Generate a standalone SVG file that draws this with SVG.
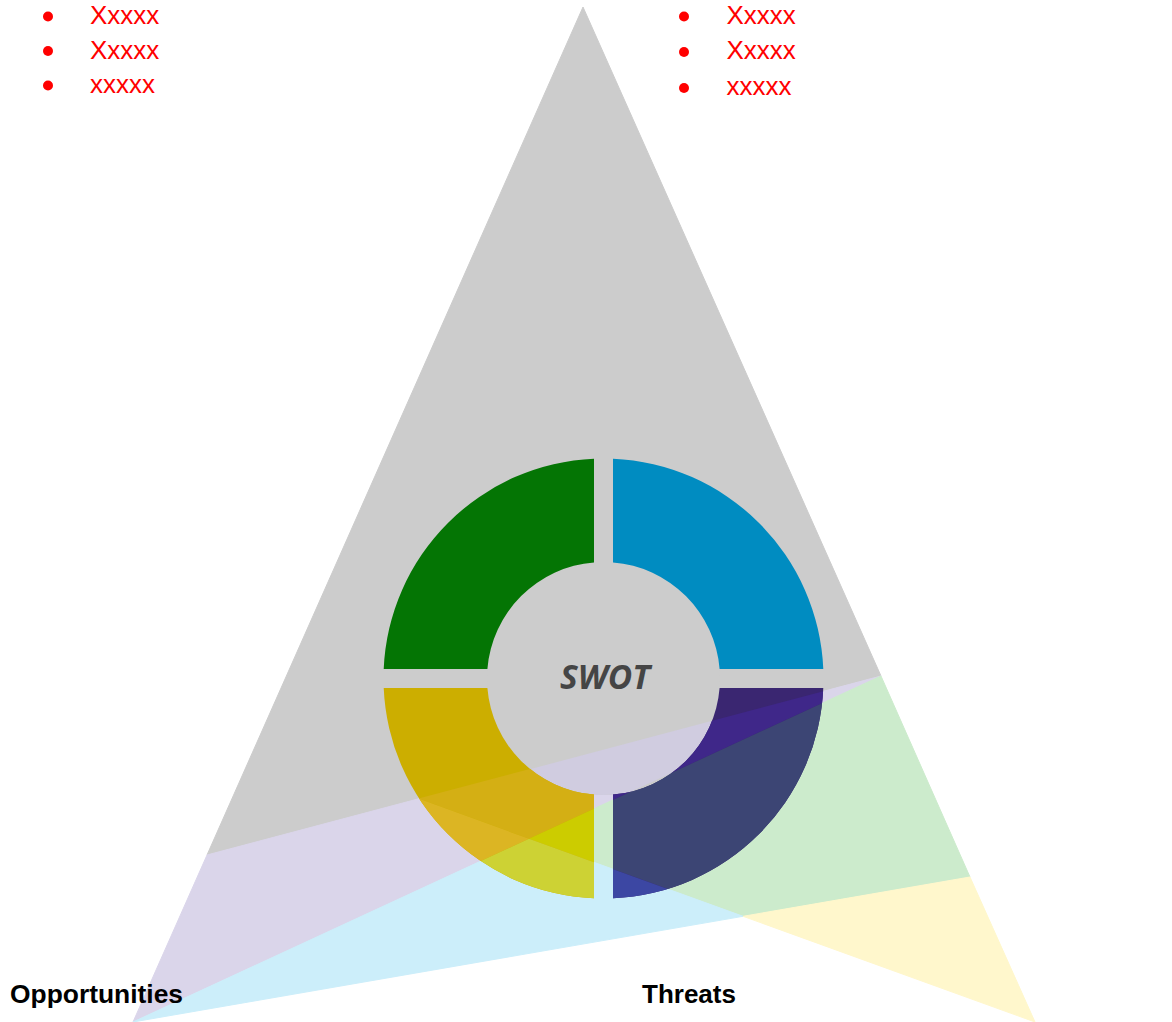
<svg xmlns="http://www.w3.org/2000/svg" xmlns:xlink="http://www.w3.org/1999/xlink" width="1172" height="1022" viewBox="0 0 1172 1022">
<defs>
<style>
.bl{font-family:"Liberation Sans",Arial,sans-serif;font-size:26px;fill:#FF0000}
.lbl{font-family:"Liberation Sans",Arial,sans-serif;font-size:26px;font-weight:bold;fill:#000000}
.swot{font-family:"Open Sans","DejaVu Sans",sans-serif;font-size:33.5px;font-weight:bold;font-style:italic;fill:#454545}
.bg polygon{stroke-width:1;stroke-linejoin:round}
</style>
<path id="qTL" d="M594,458.71 A220,220 0 0 0 383.71,669 L487.39,669 A116.5,116.5 0 0 1 594,562.39 Z"/>
<path id="qTR" d="M613,458.71 A220,220 0 0 1 823.29,669 L719.61,669 A116.5,116.5 0 0 0 613,562.39 Z"/>
<path id="qBL" d="M594,898.29 A220,220 0 0 1 383.71,688 L487.39,688 A116.5,116.5 0 0 0 594,794.61 Z"/>
<path id="qBR" d="M613,898.29 A220,220 0 0 0 823.29,688 L719.61,688 A116.5,116.5 0 0 1 613,794.61 Z"/>
<circle id="disk" cx="603.5" cy="678.5" r="116.5"/>
<clipPath id="cLavA"><polygon points="418.5,798.5 881,676 529,838.8"/></clipPath>
<clipPath id="cLavB"><polygon points="207,855 418.5,798.5 529,838.8 133,1022"/></clipPath>
<clipPath id="cLav"><polygon points="207,855 881,676 133,1022"/></clipPath>
<clipPath id="cGreen"><polygon points="529,838.8 881,676 970,877 743.1,916.3"/></clipPath>
<clipPath id="cBlue"><polygon points="133,1022 529,838.8 743.1,916.3"/></clipPath>
</defs>
<g id="background" class="bg">
<polygon points="583,7 207,855 881,676" fill="#CCCCCC" stroke="#CCCCCC"/>
<polygon points="207,855 881,676 133,1022" fill="#DAD5EA" stroke="#DAD5EA"/>
<polygon points="529,838.8 881,676 970,877 743.1,916.3" fill="#CCEBCC" stroke="#CCEBCC"/>
<polygon points="133,1022 529,838.8 743.1,916.3" fill="#CCEEFA" stroke="#CCEEFA"/>
<polygon points="743.1,916.3 970,877 1035,1022" fill="#FFF7CC" stroke="#FFF7CC"/>
</g>
<g id="center">
<use xlink:href="#disk" fill="#CCCCCC"/>
<use xlink:href="#disk" fill="#D0CCE0" clip-path="url(#cLav)"/>
<text class="swot" x="605" y="688.5" text-anchor="middle">SWOT</text>
</g>
<g id="strengths">
<use xlink:href="#qTL" fill="#047504"/>
</g>
<g id="weaknesses">
<use xlink:href="#qTR" fill="#008CC1"/>
</g>
<g id="opportunities">
<use xlink:href="#qBL" fill="#CCAE00"/>
<use xlink:href="#qBL" fill="#D4AF14" clip-path="url(#cLavA)"/>
<use xlink:href="#qBL" fill="#DCB523" clip-path="url(#cLavB)"/>
<use xlink:href="#qBL" fill="#CCCC00" clip-path="url(#cGreen)"/>
<use xlink:href="#qBL" fill="#CDD234" clip-path="url(#cBlue)"/>
</g>
<g id="threats">
<use xlink:href="#qBR" fill="#3A2671"/>
<use xlink:href="#qBR" fill="#3F2789" clip-path="url(#cLav)"/>
<use xlink:href="#qBR" fill="#3C4574" clip-path="url(#cGreen)"/>
<use xlink:href="#qBR" fill="#3C47A3" clip-path="url(#cBlue)"/>
</g>
<g id="connectors"></g>
<g id="list-left" fill="#FF0000">
<circle cx="48" cy="16.5" r="5"/>
<circle cx="48" cy="51" r="5"/>
<circle cx="48" cy="85.5" r="5"/>
<text class="bl" x="90" y="24">Xxxxx</text>
<text class="bl" x="90" y="58.5">Xxxxx</text>
<text class="bl" x="90" y="93">xxxxx</text>
</g>
<g id="list-right" fill="#FF0000">
<circle cx="684" cy="16.5" r="5"/>
<circle cx="684" cy="52" r="5"/>
<circle cx="684" cy="88" r="5"/>
<text class="bl" x="726.5" y="24">Xxxxx</text>
<text class="bl" x="726.5" y="59.3">Xxxxx</text>
<text class="bl" x="726.5" y="95">xxxxx</text>
</g>
<g id="label-opportunities">
<text class="lbl" x="10" y="1003.3" style="font-size:26.4px">Opportunities</text>
</g>
<g id="label-threats">
<text class="lbl" x="642" y="1003.3">Threats</text>
</g>
</svg>
